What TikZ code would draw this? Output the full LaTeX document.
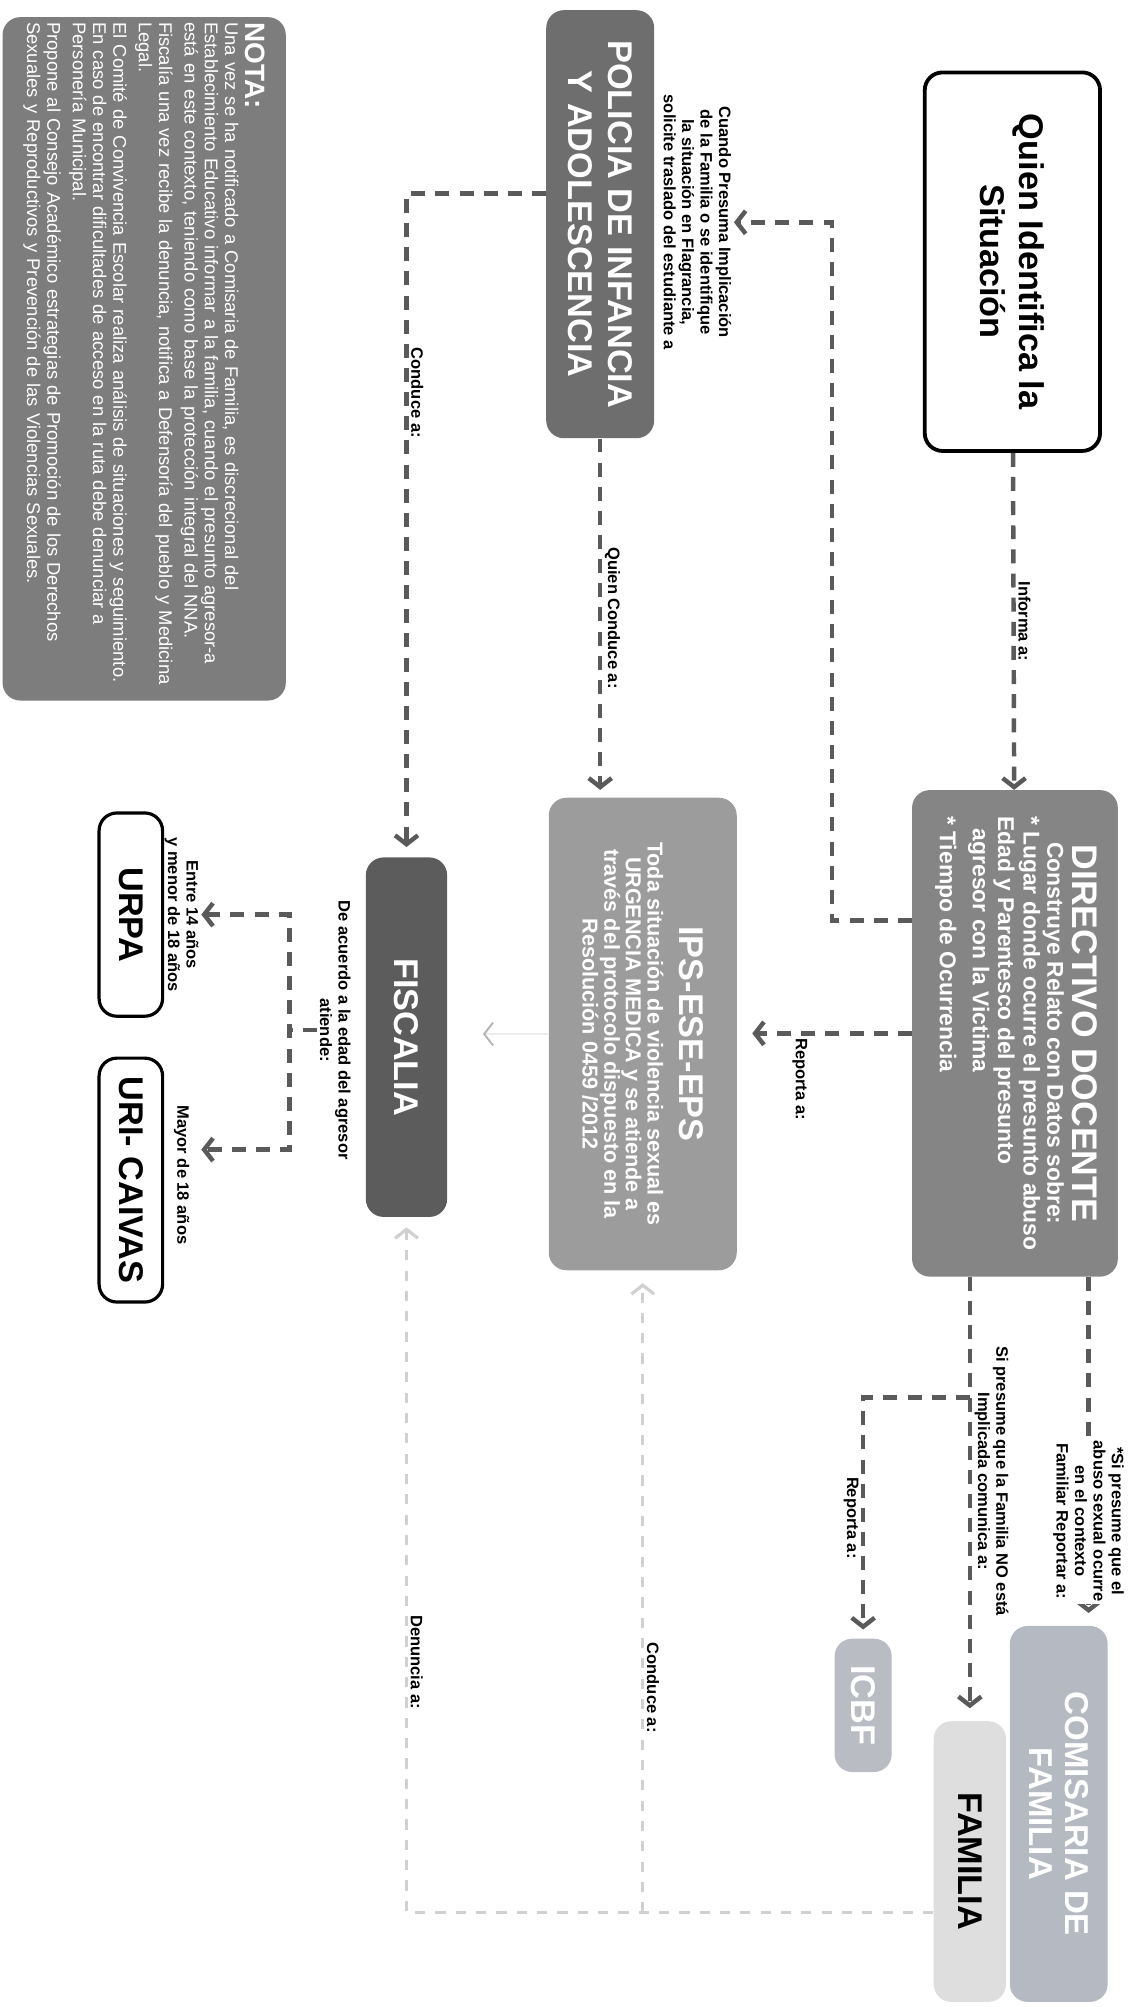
\documentclass[tikz,border=0pt]{standalone}
\usepackage{fontspec}
\setmainfont{Liberation Sans}
\usepackage{xcolor}
\usetikzlibrary{arrows.meta,positioning}
\definecolor{dirgray}{HTML}{858585}
\definecolor{ipsgray}{HTML}{9C9C9C}
\definecolor{polgray}{HTML}{6E6E6E}
\definecolor{fisgray}{HTML}{5C5C5C}
\definecolor{notagray}{HTML}{7D7D7D}
\definecolor{comgray}{HTML}{B5B9C1}
\definecolor{icbfgray}{HTML}{B9BCC3}
\definecolor{famgray}{HTML}{DEDEDE}
\definecolor{linegray}{HTML}{5A5A5A}
\definecolor{lightline}{HTML}{D0D0D0}
\definecolor{lightarrow}{HTML}{B4B4B4}
\tikzset{
fillbox/.style = {rectangle, rounded corners=14pt, fill=#1, draw=none,
                  text=white, align=center, inner sep=4pt,
                  font=\bfseries\fontsize{27}{31}\selectfont},
fillbox/.default = dirgray, % fill colour of the box
linebox/.style = {rectangle, rounded corners=14pt, draw=black, fill=white,
                  line width=#1, align=center, inner sep=4pt,
                  font=\bfseries\fontsize{27}{31}\selectfont},
linebox/.default = 2.5pt % width of the border
}
\tikzset{
dline/.style = {draw=linegray, line width=3.5pt, dash pattern=on 11pt off 8pt, ->},
lline/.style = {draw=lightline, line width=2.5pt, dash pattern=on 8pt off 8pt, ->},
lbl/.style = {align=center, inner sep=2pt, font=\bfseries\fontsize{13}{14.5}\selectfont}
}

\begin{document}
\begin{tikzpicture}[x=1pt, y=1pt, rotate=-90, transform shape,
                    >={Straight Barb[length=7pt,width=18pt]}]
    \useasboundingbox (0,0) rectangle (1580,893);
    % boxes
    \node[linebox=3pt, minimum width=298, minimum height=138] (quien) at (206,797) {Quien Identifica la\\Situación};
    \node[fillbox=dirgray, minimum width=383, minimum height=162,
          font=\bfseries\fontsize{18}{20}\selectfont] (dir) at (813.5,799)
          {{\fontsize{28}{30}\selectfont DIRECTIVO DOCENTE}\\
           Construye Relato con Datos sobre:\\
           \begin{tabular}{@{}l@{}}* Lugar donde ocurre el presunto abuso\\
           * Edad y Parentesco del presunto\\
           \ \ agresor con la Victima\\[6pt]
           * Tiempo de Ocurrencia\end{tabular}};
    \node[fillbox=ipsgray, minimum width=372, minimum height=148,
          font=\bfseries\fontsize{17}{17}\selectfont] (ips) at (814,506)
          {{\fontsize{27}{30}\selectfont IPS-ESE-EPS}\\[8pt]
           Toda situación de violencia sexual es\\
           URGENCIA MEDICA y se atiende a\\
           través del protocolo dispuesto en la\\
           Resolución 0459 /2012};
    \node[fillbox=polgray, minimum width=337, minimum height=85] (pol) at (176.5,472.5) {POLICIA DE INFANCIA\\Y ADOLESCENCIA};
    \node[fillbox=fisgray, minimum width=283, minimum height=64] (fis) at (816.5,320) {FISCALIA};
    \node[linebox, minimum width=160, minimum height=50] (urpa) at (720,103) {URPA};
    \node[linebox, minimum width=192, minimum height=50] (uri) at (929,103) {URI- CAIVAS};
    \node[fillbox=comgray, minimum width=296, minimum height=77,
          font=\bfseries\fontsize{26}{28}\selectfont] (com) at (1428,833.5) {COMISARIA DE\\FAMILIA};
    \node[fillbox=famgray, text=black, minimum width=221, minimum height=57] (fam) at (1465.5,763.5) {FAMILIA};
    \node[fillbox=icbfgray, minimum width=105, minimum height=45] (icbf) at (1342.5,679.5) {ICBF};
    \node[fillbox=notagray, text width=530, align=left, minimum height=223,
          font=\fontsize{14.5}{16}\selectfont] (nota) at (282.5,113.5)
          {{\bfseries\fontsize{22}{24}\selectfont NOTA:}\\
           *Una vez se ha notificado a Comisaria de Familia, es discrecional del\\
           Establecimiento Educativo informar a la familia, cuando el presunto agresor-a\\
           está en este contexto, teniendo como base la protección integral del NNA.\\[4pt]
           Fiscalía una vez recibe la denuncia, notifica a Defensoría del pueblo y Medicina\\
           Legal.\\[4pt]
           El Comité de Convivencia Escolar realiza análisis de situaciones y seguimiento.\\
           En caso de encontrar dificultades de acceso en la ruta debe denunciar a\\
           Personería Municipal.\\[4pt]
           Propone al Consejo Académico estrategias de Promoción de los Derechos\\
           Sexuales y Reproductivos y Prevención de las Violencias Sexuales.};
    % free labels
    \node[lbl] (cuando) at (175,549) {Cuando Presuma Implicación\\de la Familia o se identifique\\la situación en Flagrancia,\\solicite traslado del estudiante a};
    \node[lbl] (edadlbl) at (811,264) {De acuerdo a la edad del agresor\\atiende:};
    \node[lbl] (entrelbl) at (720,143) {Entre 14 años\\y menor de 18 años};
    \node[lbl] (mayorlbl) at (925,143) {Mayor de 18 años};
    \coordinate (barL) at (720,228);
    \coordinate (barR) at (905,228);
    \coordinate (icbfout) at (1100,763.5);
    \coordinate (famout) at ([xshift=40]fam.south);

    % connectors
    \draw[dline] (quien) -- (dir) node[lbl, above, midway]{Informa a:};
    \draw[dline] ([xshift=-89]dir.south) -- ++(0,-63) -| (cuando.north);
    \draw[dline, shorten >=12pt] (dir.south) -- (dir.south |- ips.north) node[lbl, right, pos=0.64]{Reporta a:};
    \draw[dline, shorten >=6pt] (pol.east) -- (pol.east -| ips.west) node[lbl, above, midway]{Quien Conduce a:};
    \draw[dline, shorten >=8pt] ([xshift=-24]pol.south) |- (fis.west) node[lbl, above, pos=0.65]{Conduce a:};
    \draw[draw=gray!15, line width=1.5pt, -{Straight Barb[length=7pt,width=18pt,color=lightarrow]},
          shorten >=28pt] (ips.south) -- (ips.south |- fis.north);
    \draw[dline, -] (edadlbl.south) -- (edadlbl.south |- barL);
    \draw[dline, <->] (entrelbl.north) -- (barL) -- (barR) -- (barR |- entrelbl.north);
    \draw[dline, shorten >=10pt] ([yshift=58]dir.east) -- ([yshift=58]dir.east -| com.west)
        node[lbl, fill=white, pos=0.7]{*Si presume que el\\abuso sexual ocurre\\en el contexto\\Familiar Reportar a:};
    \draw[dline, shorten >=10pt] (dir.east |- fam.west) -- (fam.west)
        node[lbl, above, pos=0.46]{Si presume que la Familia NO está\\Implicada comunica a:};
    \draw[dline, shorten >=7pt] (icbfout) |- (icbf.west) node[lbl, below, pos=0.75]{Reporta a:};
    \draw[lline, shorten >=8pt] (famout) |- (fis.east) node[lbl, above, pos=0.68]{Denuncia a:};
    \draw[lline, shorten >=10pt] (famout |- ips.east) -- (ips.east) node[lbl, above, pos=0.35]{Conduce a:};
\end{tikzpicture}
\end{document}
